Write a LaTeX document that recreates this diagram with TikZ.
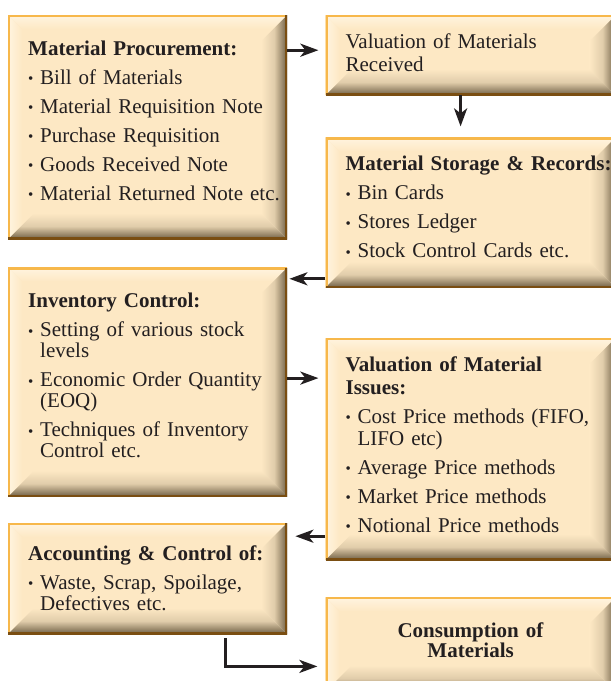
\documentclass[tikz,border=0pt]{standalone}
\usepackage{fontspec}
\setmainfont{Liberation Serif}
\usetikzlibrary{positioning,arrows.meta}

\definecolor{ink}{HTML}{231F20}
\definecolor{boxfill}{HTML}{FDE8C4}
\definecolor{boxlight}{HTML}{FFF4E0}
\definecolor{boxdark}{HTML}{6E5E44}
\definecolor{boxedge}{HTML}{F7B84B}
\definecolor{boxrim}{HTML}{7A4E12}

\newcommand{\hd}[1]{\mbox{\textbf{#1}}}
\newcommand{\itm}[1]{\mbox{\makebox[12pt][l]{\raisebox{0.5pt}{\fontsize{15}{15}\selectfont\textbullet}}#1}}
\newcommand{\cnt}[1]{\mbox{\hspace*{12pt}#1}}

\begin{document}
\begin{tikzpicture}[x=1pt,y=1pt,>={Stealth[length=18pt,width=13pt,inset=5pt]},
    box node/.style={rectangle,fill=boxfill,text=ink,align=left,inner xsep=20pt,inner ysep=0pt,
        font=\fontsize{21}{22}\selectfont,
        path picture={
            \path (path picture bounding box.north west) coordinate (pA)
                  (path picture bounding box.north east) coordinate (pB)
                  (path picture bounding box.south east) coordinate (pC)
                  (path picture bounding box.south west) coordinate (pD);
            \shade[top color=boxlight,bottom color=boxfill] (pA) -- (pB) -- ([shift={(-14pt,-14pt)}]pB) -- ([shift={(14pt,-14pt)}]pA) -- cycle;
            \shade[left color=boxlight,right color=boxfill] (pA) -- ([shift={(14pt,-14pt)}]pA) -- ([shift={(14pt,14pt)}]pD) -- (pD) -- cycle;
            \shade[left color=boxfill,right color=boxdark,middle color=boxfill!80!boxdark] (pB) -- ([shift={(-26pt,-26pt)}]pB) -- ([shift={(-26pt,26pt)}]pC) -- (pC) -- cycle;
            \shade[top color=boxfill,bottom color=boxdark,middle color=boxfill!80!boxdark] (pD) -- ([shift={(26pt,26pt)}]pD) -- ([shift={(-26pt,26pt)}]pC) -- (pC) -- cycle;
            \draw[boxedge,line width=4pt] (pD) -- (pA) -- (pB);
            \draw[boxrim,line width=4pt] (pB) -- (pC) -- (pD);
        }},
    left box/.style={box node,text width=239pt},
    right box/.style={box node,text width=250pt}]
    \useasboundingbox (0,0) rectangle (611,-681);

    \node[left box,anchor=north west,text height=40pt,text depth=184pt] (proc) at (8,-15)
        {\hd{Material Procurement:}\\[7pt]
         \itm{Bill of Materials}\\[7pt]
         \itm{Material Requisition Note}\\[7pt]
         \itm{Purchase Requisition}\\[7pt]
         \itm{Goods Received Note}\\[7pt]
         \itm{Material Returned Note etc.}};
    \node[right box,right=38pt of proc.north east,anchor=north west,text height=33pt,text depth=47pt] (valrec)
        {\mbox{Valuation of Materials}\\[1pt]
         \mbox{Received}};
    \node[right box,below=42pt of valrec.south west,anchor=north west,text height=33pt,text depth=117pt] (store)
        {\hd{Material Storage \& Records:}\\[7pt]
         \itm{Bin Cards}\\[7pt]
         \itm{Stores Ledger}\\[7pt]
         \itm{Stock Control Cards etc.}};
    \node[left box,below=28pt of proc.south west,anchor=north west,text height=40pt,text depth=189pt] (inv)
        {\hd{Inventory Control:}\\[7pt]
         \itm{Setting of various stock}\\[-1pt]
         \cnt{levels}\\[7pt]
         \itm{Economic Order Quantity}\\[-1pt]
         \cnt{(EOQ)}\\[7pt]
         \itm{Techniques of Inventory}\\[-1pt]
         \cnt{Control etc.}};
    \node[right box,below=50pt of store.south west,anchor=north west,text height=33pt,text depth=189pt] (issue)
        {\hd{Valuation of Material}\\[1pt]
         \hd{Issues:}\\[7pt]
         \itm{Cost Price methods (FIFO,}\\[0pt]
         \cnt{LIFO etc)}\\[7pt]
         \itm{Average Price methods}\\[7pt]
         \itm{Market Price methods}\\[7pt]
         \itm{Notional Price methods}};
    \node[left box,below=26pt of inv.south west,anchor=north west,text height=37pt,text depth=74pt] (acct)
        {\hd{Accounting \& Control of:}\\[7pt]
         \itm{Waste, Scrap, Spoilage,}\\[-1pt]
         \cnt{Defectives etc.}};
    \node[right box,align=center,below=37pt of issue.south west,anchor=north west,text height=40pt,text depth=54pt] (cons)
        {\hd{Consumption of}\\[-2pt]
         \hd{Materials}};

    \path[->,color=ink,line width=3pt]
        ([yshift=5pt]valrec.west -| proc.east) edge[shorten >=7pt] ([yshift=5pt]valrec.west)
        ([xshift=-10pt]valrec.south) edge[shorten >=11pt] ([xshift=-10pt]valrec.south |- store.north)
        ([yshift=9pt]store.south west) edge[shorten >=2pt] ([yshift=9pt]store.south west -| inv.east)
        ([yshift=4pt]inv.east) edge[shorten >=7pt] ([yshift=4pt]inv.east -| issue.west)
        ([yshift=24pt]issue.south west) edge[shorten >=8pt] ([yshift=24pt]issue.south west -| acct.east)
        ([xshift=78pt,yshift=-4pt]acct.south) edge[shorten >=8pt,to path={|- (\tikztotarget)}] ([yshift=-22pt]cons.west)
        ;
\end{tikzpicture}
\end{document}
